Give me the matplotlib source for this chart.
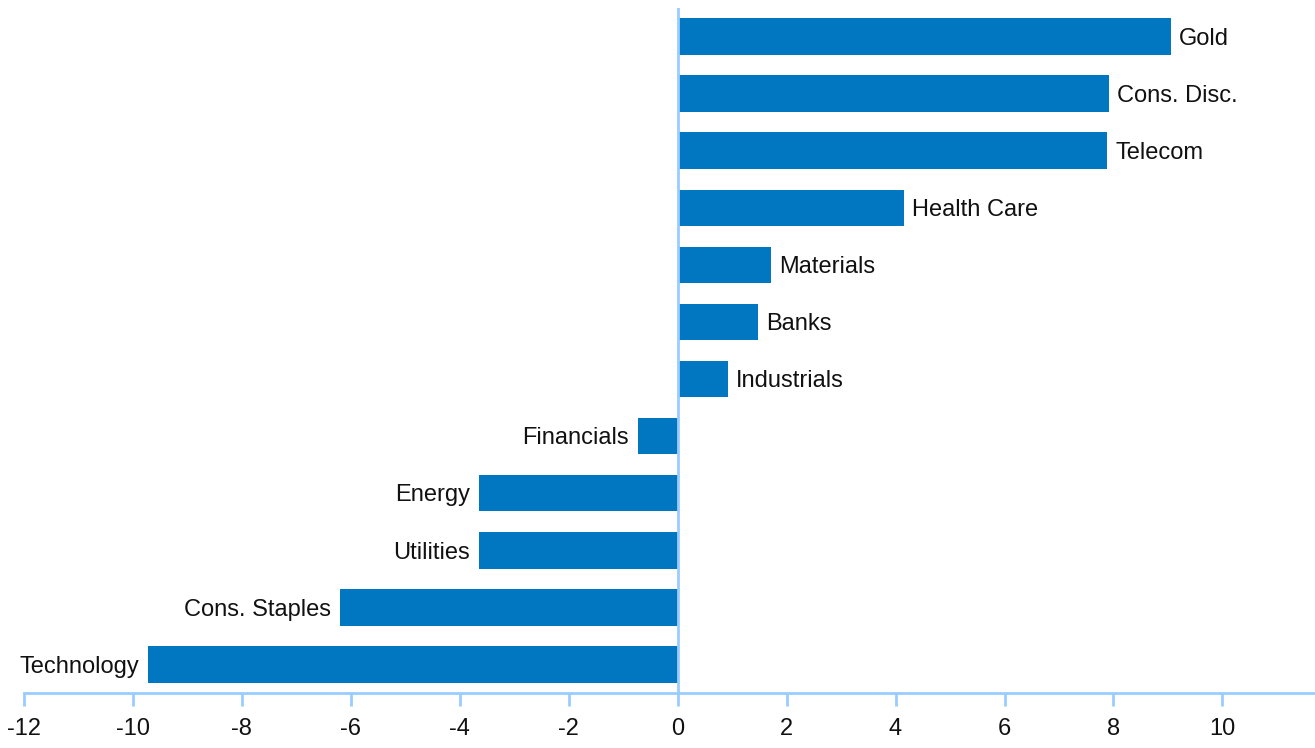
import matplotlib
matplotlib.use('Agg')
import matplotlib.pyplot as plt

sectors = ['Technology', 'Cons. Staples', 'Utilities', 'Energy', 'Financials',
           'Industrials', 'Banks', 'Materials', 'Health Care', 'Telecom',
           'Cons. Disc.', 'Gold']
values = [-9.72, -6.20, -3.64, -3.64, -0.72, 0.92, 1.48, 1.72, 4.16, 7.88, 7.91, 9.05]
xticks = [-12, -10, -8, -6, -4, -2, 0, 2, 4, 6, 8, 10]

plt.rcParams['font.family'] = ['Liberation Sans Narrow', 'Liberation Sans', 'DejaVu Sans']

bar_color = '#0077C0'
axis_color = '#99CCFF'

fig = plt.figure(figsize=(13.15, 7.48), dpi=100)
ax = fig.add_axes([24 / 1315, 1 - 693 / 748, (1315 - 24) / 1315, (693 - 8) / 748])

pos = range(len(sectors))
ax.barh(pos, values, height=0.64, color=bar_color, zorder=2)

# category labels next to bar ends
for y, v, name in zip(pos, values, sectors):
    if v >= 0:
        ax.text(v + 0.15, y - 0.04, name, ha='left', va='center', fontsize=17, color='#111111')
    else:
        ax.text(v - 0.17, y - 0.04, name, ha='right', va='center', fontsize=17, color='#111111')

ax.set_xlim(-12, 11.7)
ax.set_ylim(-0.5, 11.5)
ax.set_xticks(xticks)
ax.set_xticklabels([str(t) for t in xticks], fontsize=17, color='#111111')
ax.set_yticks([])

for s in ['top', 'right', 'left']:
    ax.spines[s].set_visible(False)
ax.spines['bottom'].set_color(axis_color)
ax.spines['bottom'].set_linewidth(2)
ax.tick_params(axis='x', direction='out', length=9, width=2, color=axis_color, pad=9)

# zero line
ax.axvline(0, color=axis_color, linewidth=2, zorder=3)

fig.savefig('out.png', dpi=100)
